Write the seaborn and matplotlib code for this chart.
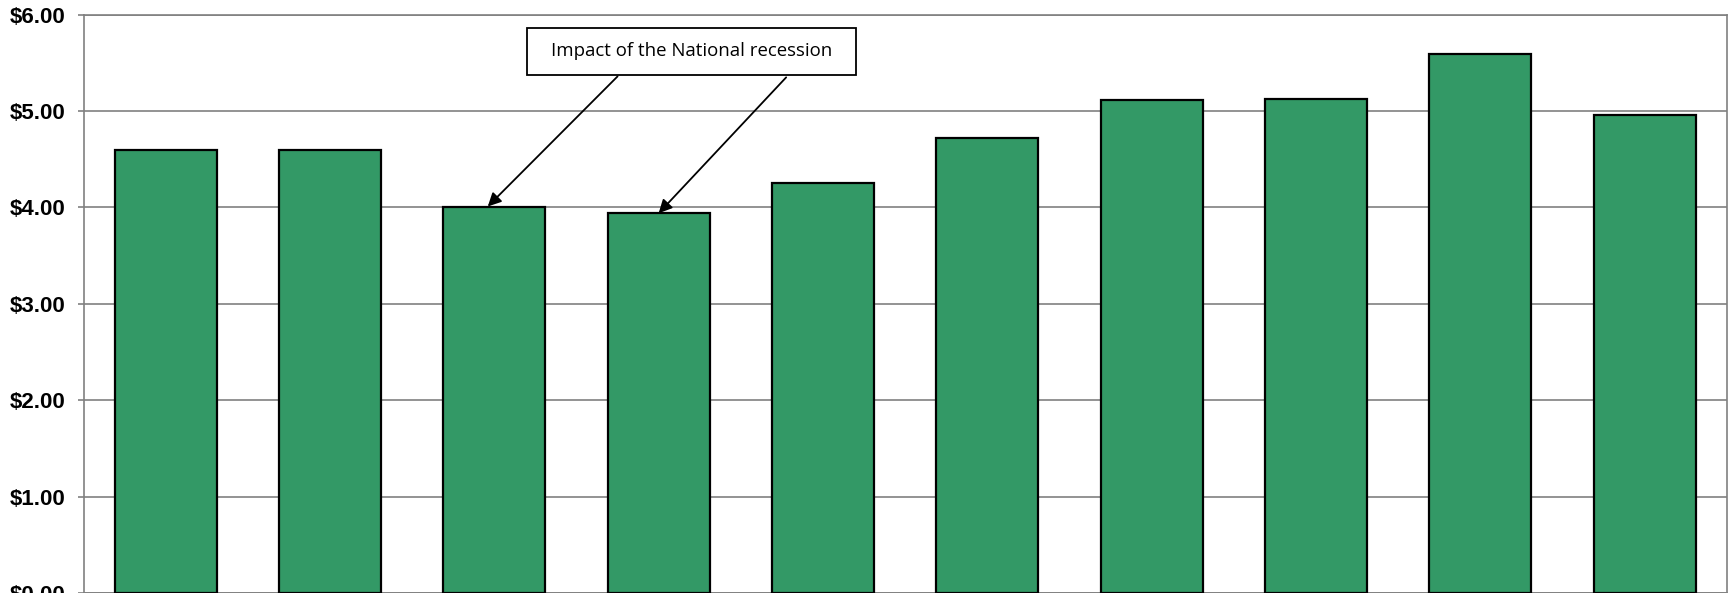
import matplotlib
matplotlib.use("Agg")
import matplotlib.pyplot as plt
import seaborn as sns
import pandas as pd
from matplotlib.patches import Rectangle

categories = ["1", "2", "3", "4", "5", "6", "7", "8", "9", "10"]
values = [4.60, 4.60, 4.01, 3.94, 4.25, 4.72, 5.11, 5.13, 5.595, 4.955]
yticks = [0, 1, 2, 3, 4, 5, 6]
ytick_labels = ["$0.00", "$1.00", "$2.00", "$3.00", "$4.00", "$5.00", "$6.00"]
annotation_text = "Impact of the National recession"

sns.set_theme(style="white")
plt.rcParams["font.family"] = ["Liberation Sans", "DejaVu Sans"]

df = pd.DataFrame({"cat": categories, "val": values})

fig = plt.figure(figsize=(17.29, 5.93), dpi=100)
ax = fig.add_axes([0.0483, 0.0, 0.9504, 0.9752])

sns.barplot(data=df, x="cat", y="val", color="#339966", edgecolor="black",
            linewidth=1.6, width=0.62, saturation=1, ax=ax, zorder=3)

ax.set_ylim(0, 6)
ax.set_xlim(-0.5, len(categories) - 0.5)
ax.set_yticks(yticks)
ax.set_yticklabels(ytick_labels, fontsize=16, fontweight="bold", color="black")
ax.set_xlabel("")
ax.set_ylabel("")
ax.set_xticklabels([])
ax.tick_params(axis="x", length=0)
ax.tick_params(axis="y", length=4, width=1.2, color="#808080", pad=9, left=True)
ax.yaxis.grid(True, color="#808080", linewidth=1.2, zorder=0)
ax.set_axisbelow(True)
for s in ["left", "right", "top", "bottom"]:
    ax.spines[s].set_visible(True)
    ax.spines[s].set_color("#808080")
    ax.spines[s].set_linewidth(1.2)

# annotation box
rect = Rectangle((0.2697, 0.8957), 0.2004, 0.0818, transform=ax.transAxes,
                 facecolor="white", edgecolor="black", linewidth=1.3, zorder=6,
                 clip_on=False)
ax.add_patch(rect)
ax.text(0.2697 + 0.1002, 0.8957 + 0.0409, annotation_text, transform=ax.transAxes,
        ha="center", va="center", fontsize=13.4, family=["Open Sans", "DejaVu Sans"],
        color="black", zorder=7)

arrow_kw = dict(arrowstyle="-|>", color="black", lw=1.3, mutation_scale=20,
                shrinkA=0, shrinkB=0)
ax.annotate("", xy=(1.96, values[2]), xytext=(2.75, 5.36),
            arrowprops=arrow_kw, zorder=5)
ax.annotate("", xy=(3.0, values[3]), xytext=(3.776, 5.35),
            arrowprops=arrow_kw, zorder=5)

fig.savefig("out.png", dpi=100)
